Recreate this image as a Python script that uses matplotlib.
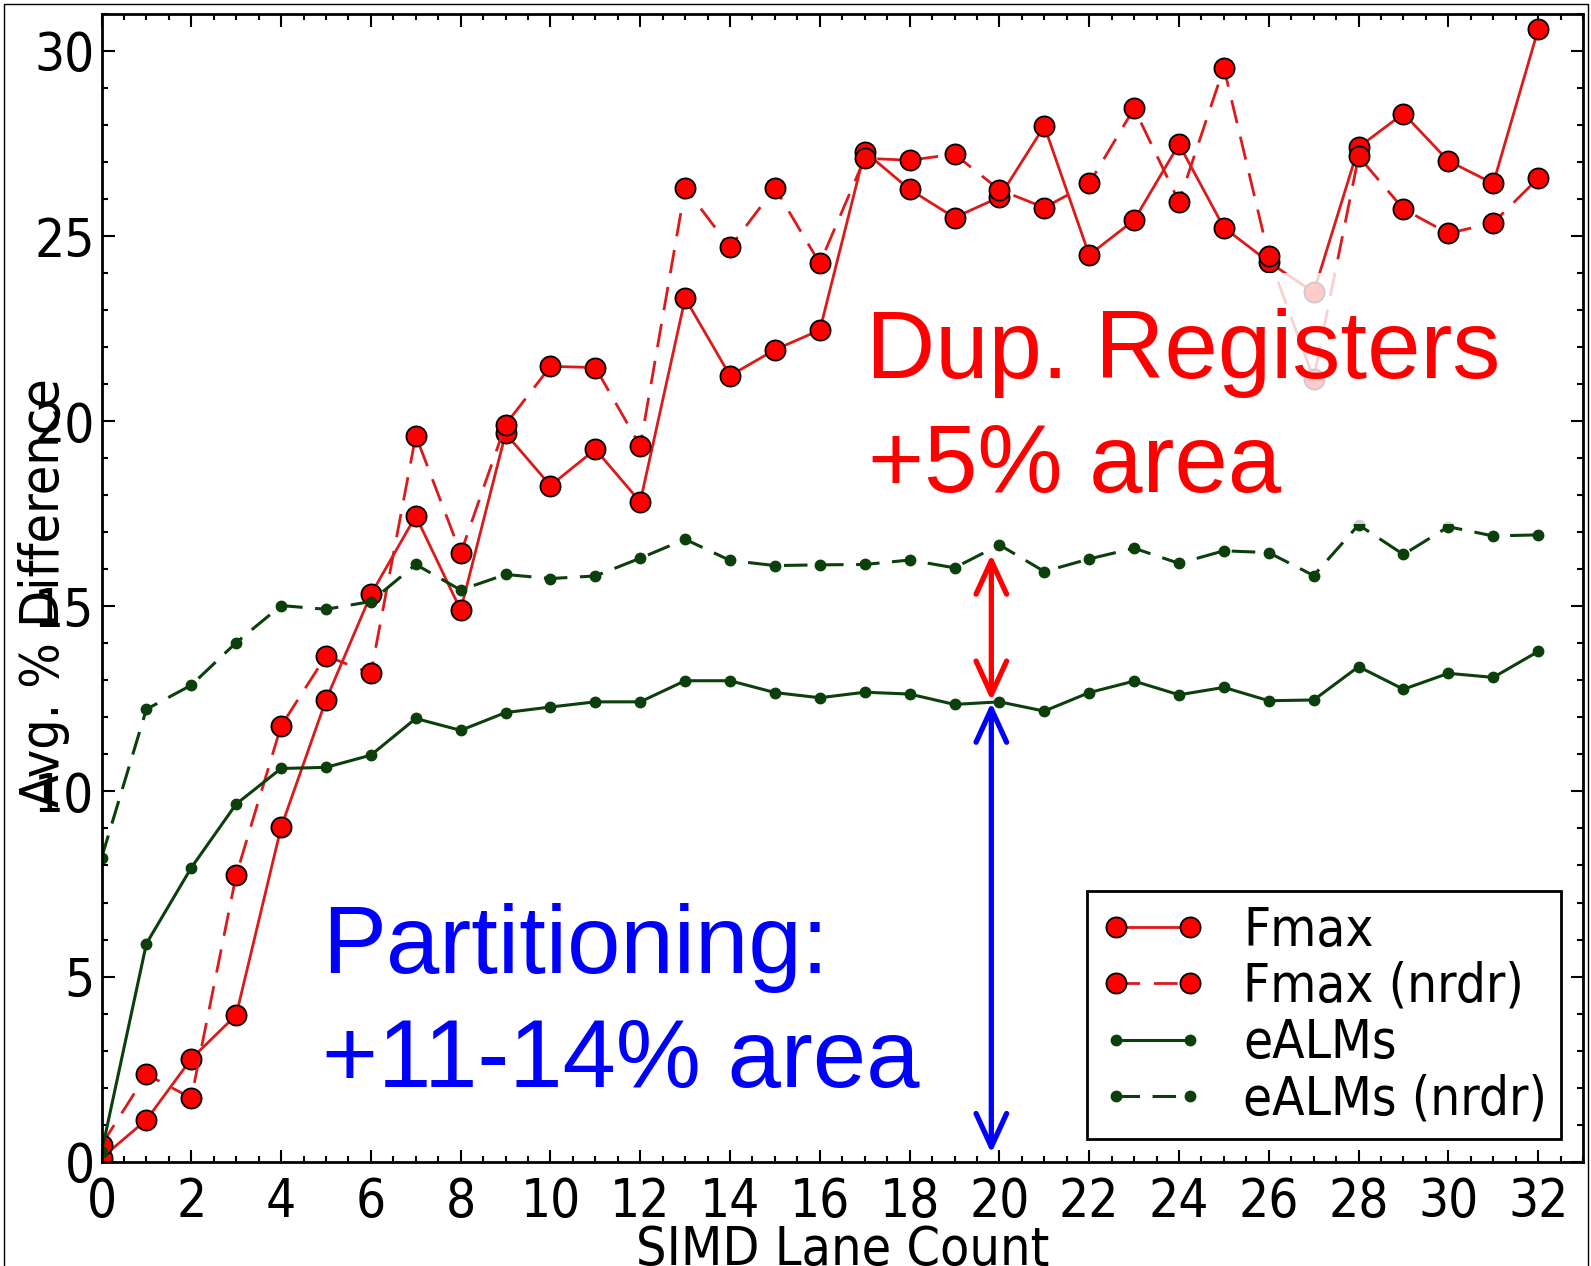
import matplotlib
matplotlib.use('Agg')
import matplotlib.pyplot as plt
from matplotlib.patches import Rectangle
from matplotlib.ticker import MultipleLocator
from matplotlib.font_manager import FontProperties

lanes = list(range(33))

fmax = [0.1, 1.13, 2.78, 3.96, 9.03, 12.47, 15.32, 17.44, 14.9, 19.67, 18.26,
        19.24, 17.82, 23.32, 21.23, 21.93, 22.46, 27.28, 26.26, 25.5, 26.05,
        27.97, 24.49, 25.43, 27.48, 25.23, 24.3, 23.48, 27.4, 28.31, 27.03,
        26.42, 30.58]
fmax_nrdr = [0.45, 2.36, 1.72, 7.74, 11.77, 13.66, 13.19, 19.61, 16.43, 19.91,
             21.48, 21.45, 19.33, 26.3, 24.7, 26.3, 24.26, 27.1, 27.05, 27.21,
             26.25, 25.77, 26.42, 28.45, 25.93, 29.55, 24.45, 21.15, 27.15,
             25.73, 25.07, 25.36, 26.56]
ealms = [0.25, 5.89, 7.94, 9.66, 10.62, 10.65, 10.98, 11.97, 11.65, 12.13,
         12.28, 12.42, 12.42, 12.99, 12.99, 12.67, 12.53, 12.68, 12.63, 12.35,
         12.42, 12.17, 12.67, 12.98, 12.61, 12.81, 12.45, 12.47, 13.37, 12.76,
         13.19, 13.08, 13.78]
ealms_nrdr = [8.2, 12.22, 12.87, 14.02, 15.02, 14.92, 15.13, 16.13, 15.44,
              15.86, 15.75, 15.82, 16.3, 16.81, 16.24, 16.1, 16.12, 16.13,
              16.25, 16.04, 16.66, 15.94, 16.28, 16.57, 16.16, 16.5, 16.45,
              15.83, 17.2, 16.4, 17.15, 16.9, 16.93]

# arrow annotations (data coords)
arrow_x = 19.82
dup_arrow = (12.45, 16.4)
part_arrow = (0.23, 12.4)

red_line = '#dd1a1a'
green = '#0b3f0b'

tick_fp = FontProperties(family='DejaVu Sans', stretch='condensed', size=38)
lab_fp = FontProperties(family='DejaVu Sans', stretch='condensed', size=38.5)
leg_fp = FontProperties(family='DejaVu Sans', stretch='condensed', size=38)

fig = plt.figure(figsize=(15.91, 12.66), dpi=100)
ax = fig.add_axes([0.0638, 0.0824, 0.9312, 0.9066])

ax.plot(lanes, fmax, '-', color=red_line, lw=2, marker='o', ms=14.5,
        mfc='red', mec='black', mew=1.3, label='Fmax')
ax.plot(lanes, fmax_nrdr, color=red_line, lw=2, ls=(0, (8.5, 5)), marker='o',
        ms=14.5, mfc='red', mec='black', mew=1.3, label='Fmax (nrdr)')
ax.plot(lanes, ealms, '-', color=green, lw=2.2, marker='o', ms=7.5,
        mfc=green, mec=green, label='eALMs')
ax.plot(lanes, ealms_nrdr, color=green, lw=2.2, ls=(0, (7.7, 4.1)), marker='o',
        ms=7.5, mfc=green, mec=green, label='eALMs (nrdr)')

ax.set_xlim(0, 33)
ax.set_ylim(0, 31)
ax.xaxis.set_major_locator(MultipleLocator(2))
ax.xaxis.set_minor_locator(MultipleLocator(0.5))
ax.yaxis.set_major_locator(MultipleLocator(5))
ax.yaxis.set_minor_locator(MultipleLocator(1))
ax.tick_params(which='both', direction='in', top=True, right=True, width=1.5)
ax.tick_params(which='major', length=9)
ax.tick_params(which='minor', length=4.5)
ax.tick_params(axis='x', pad=10)
ax.tick_params(axis='y', pad=5)
for lbl in ax.get_xticklabels() + ax.get_yticklabels():
    lbl.set_fontproperties(tick_fp)
for s in ax.spines.values():
    s.set_linewidth(2)

ax.set_xlabel('SIMD Lane Count', fontproperties=lab_fp)
ax.set_ylabel('Avg. % Difference', fontproperties=lab_fp)
ax.xaxis.set_label_coords(0.5, -0.054)
ax.yaxis.set_label_coords(-0.021, 0.496)

# faded white box behind the upper annotation
ax.add_patch(Rectangle((0.5086, 0.5556), 0.4454, 0.2187, transform=ax.transAxes,
                       facecolor='white', edgecolor='none', alpha=0.8, zorder=3))

ax.text(0.516, 0.6829, 'Dup. Registers', transform=ax.transAxes, color='red',
        fontsize=69, family='Liberation Sans', va='baseline', zorder=4)
ax.text(0.5175, 0.5838, '+5% area', transform=ax.transAxes, color='red',
        fontsize=69, family='Liberation Sans', va='baseline', zorder=4)
ax.text(0.1488, 0.1644, 'Partitioning:', transform=ax.transAxes, color='blue',
        fontsize=69, family='Liberation Sans', va='baseline', zorder=4)
ax.text(0.1488, 0.0653, '+11-14% area', transform=ax.transAxes, color='blue',
        fontsize=69, family='Liberation Sans', va='baseline', zorder=4)

ax.annotate('', xy=(arrow_x, dup_arrow[1]), xytext=(arrow_x, dup_arrow[0]),
            arrowprops=dict(arrowstyle='<->,head_length=2.4,head_width=1.1',
                            color='red', lw=3.8, mutation_scale=10,
                            shrinkA=0, shrinkB=0), zorder=4)
ax.annotate('', xy=(arrow_x, part_arrow[1]), xytext=(arrow_x, part_arrow[0]),
            arrowprops=dict(arrowstyle='<->,head_length=2.4,head_width=1.1',
                            color='blue', lw=3.8, mutation_scale=10,
                            shrinkA=0, shrinkB=0), zorder=4)

leg = ax.legend(loc='lower right', bbox_to_anchor=(0.985, 0.0198),
                borderaxespad=0, prop=leg_fp, numpoints=2, handlelength=2.0,
                handletextpad=0.7, borderpad=0.26, labelspacing=0.08,
                fancybox=False, framealpha=1)
leg.get_frame().set_edgecolor('black')
leg.get_frame().set_linewidth(2)
leg.set_zorder(5)

# thin frame around the whole picture
fig.patches.append(Rectangle((0.0025, -0.01), 0.9955, 1.0066, transform=fig.transFigure,
                             fill=False, edgecolor='black', lw=1))

fig.savefig('out.png', dpi=100)
